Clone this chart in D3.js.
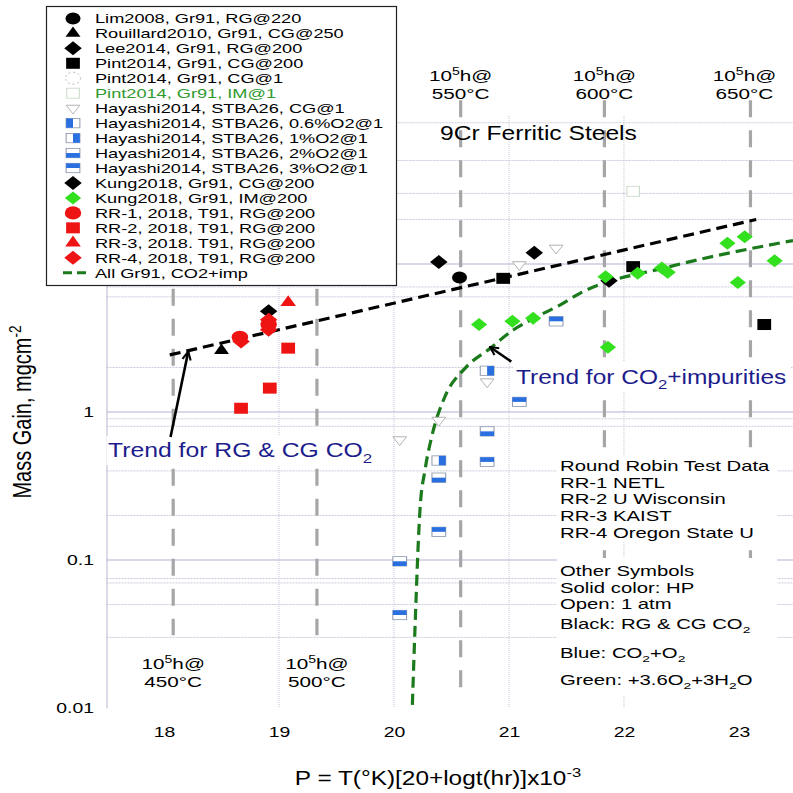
<!DOCTYPE html>
<html>
<head>
<meta charset="utf-8">
<script src="https://cdn.jsdelivr.net/npm/d3@7"></script>
<style>
  body { margin: 0; background: #fff; }
  svg { font-family: "Liberation Sans", Arial, Helvetica, sans-serif; }
</style>
</head>
<body>
<script>
// values: [P (Larson-Miller), mass gain mg/cm2]
var lim2008 = [[20.57, 8.1]];
var rouillard2010 = [[18.50, 2.6]];
var lee2014 = [[18.91, 4.8], [20.39, 10.3], [21.22, 11.9]];
var pintCG200 = [[20.95, 8.0], [22.08, 9.6], [23.22, 3.9]];
var pintCG1 = [];
var pintIM1 = [[22.08, 31]];
var hayashiCG1 = [[21.41, 12.8], [21.09, 9.9], [20.81, 1.6], [20.39, 0.88], [20.05, 0.65]];
var hayashi06 = [];
var hayashi1 = [[20.81, 1.9], [20.39, 0.47]];
var hayashi2 = [[20.81, 0.74], [20.39, 0.36], [20.05, 0.098]];
var hayashi3 = [[21.41, 4.1], [21.09, 1.17], [20.81, 0.46], [20.39, 0.155], [20.05, 0.0425]];
var kungCG = [[21.87, 7.7]];
var kungIM = [[20.74, 3.9], [21.03, 4.1], [21.21, 4.3], [21.84, 8.2], [21.86, 2.74], [22.12, 8.65],
              [22.33, 9.4], [22.38, 8.8], [22.90, 13.8], [23.05, 15.3], [22.99, 7.5], [23.31, 10.5]];
var rr1 = [[18.66, 3.2], [18.91, 3.9]];
var rr2 = [[19.08, 2.7], [18.92, 1.45], [18.67, 1.06]];
var rr3 = [[19.08, 5.5]];
var rr4 = [[18.67, 3.0], [18.91, 4.2], [18.91, 3.6]];

// trend lines
var trendRG = [[18.05, 2.43], [23.15, 20.0]];
var trendImp = [[20.16, 0.0105], [20.183, 0.035], [20.226, 0.218], [20.27, 0.406], [20.328, 0.68],
                [20.443, 1.27], [20.617, 1.97], [20.835, 2.69], [21.037, 3.58], [21.241, 4.40],
                [21.443, 5.28], [21.617, 6.34], [22.40, 9.6], [23.47, 14.4]];

// 1e5 h lines (P) and their temperatures
var lmpP = [18.08, 19.33, 20.58, 21.83, 23.1];
var lmpTemp = ["450°C", "500°C", "550°C", "600°C", "650°C"];

var xTicks = [18, 19, 20, 21, 22, 23];
var yTicks = [0.01, 0.1, 1, 10, 100];
var majorY = [0.1, 1, 10];
var minorY = [90, 50, 30, 20, 7, 6, 2, 0.9, 0.8, 0.4, 0.2, 0.075, 0.07, 0.05, 0.03];
var xGrid = [19, 20, 21, 22];

var legendLabels = ["Lim2008, Gr91, RG@220", "Rouillard2010, Gr91, CG@250", "Lee2014, Gr91, RG@200",
  "Pint2014, Gr91, CG@200", "Pint2014, Gr91, CG@1", "Pint2014, Gr91, IM@1", "Hayashi2014, STBA26, CG@1",
  "Hayashi2014, STBA26, 0.6%O2@1", "Hayashi2014, STBA26, 1%O2@1", "Hayashi2014, STBA26, 2%O2@1",
  "Hayashi2014, STBA26, 3%O2@1", "Kung2018, Gr91, CG@200", "Kung2018, Gr91, IM@200",
  "RR-1, 2018, T91, RG@200", "RR-2, 2018, T91, RG@200", "RR-3, 2018. T91, RG@200",
  "RR-4, 2018, T91, RG@200", "All Gr91, CO2+imp"];

var RED = "#ee1414", GREEN = "#33e01e", BLUE = "#2a6fe0", NAVY = "#1c1c8c", DKGREEN = "#1b7a1b";

var series = [
  {data: lim2008, kind: "circle", color: "#000", r: 6},
  {data: rouillard2010, kind: "triangle", color: "#000", r: 12},
  {data: lee2014, kind: "diamond", color: "#000", r: 7},
  {data: pintCG200, kind: "square", color: "#000", r: 11},
  {data: pintCG1, kind: "openCircle", color: "#bbb", r: 6},
  {data: pintIM1, kind: "openSquare", color: "#c4d8c4", r: 10},
  {data: hayashiCG1, kind: "triDown", color: "#aaa", r: 11},
  {data: hayashi06, kind: "hayL", color: BLUE, r: 11},
  {data: hayashi1, kind: "hayR", color: BLUE, r: 11},
  {data: hayashi2, kind: "hayB", color: BLUE, r: 11},
  {data: hayashi3, kind: "hayT", color: BLUE, r: 11},
  {data: kungCG, kind: "diamond", color: "#000", r: 7},
  {data: kungIM, kind: "diamond", color: GREEN, r: 6.5},
  {data: rr1, kind: "circle", color: RED, r: 6.6},
  {data: rr2, kind: "square", color: RED, r: 11},
  {data: rr3, kind: "triangle", color: RED, r: 12.5},
  {data: rr4, kind: "diamond", color: RED, r: 7}
];

var SX = 1.25; // the figure is stretched horizontally

var svg = d3.select("body").append("svg").attr("width", 793).attr("height", 793);

var x = d3.scaleLinear().domain([17.5, 23.47]).range([106.5, 793]);
var y = d3.scaleLog().domain([0.01, 100]).range([708, 116]);

// text with ^{sup} and _{sub}
function label(g, px, py, str, size, opts) {
  opts = opts || {};
  var sx = opts.sx || SX;
  var t = g.append("text")
    .attr("transform", "translate(" + px + "," + py + ") scale(" + sx + ",1)" + (opts.rotate ? " rotate(" + opts.rotate + ")" : ""))
    .attr("font-size", size)
    .attr("text-anchor", opts.anchor || "start")
    .attr("fill", opts.color || "#000");
  var parts = str.split(/(\^\{[^}]*\}|_\{[^}]*\})/);
  var prev = 0;
  parts.forEach(function(p) {
    if (!p) return;
    var dy = 0, fs = null, txt = p;
    if (p[0] == "^") { txt = p.slice(2, -1); dy = -0.4 * size; fs = size * 0.68; }
    else if (p[0] == "_") { txt = p.slice(2, -1); dy = 0.28 * size; fs = size * 0.68; }
    var ts = t.append("tspan").text(txt).attr("dy", dy - prev);
    if (fs) ts.attr("font-size", fs);
    prev = dy;
  });
  return t;
}

function drawMark(g, kind, color, r) {
  var m = g.append("g").attr("transform", "scale(" + SX + ",1)");
  var h;
  if (kind == "circle") m.append("circle").attr("r", r).attr("fill", color);
  else if (kind == "square") m.append("rect").attr("x", -r / 2).attr("y", -r / 2).attr("width", r).attr("height", r).attr("fill", color);
  else if (kind == "diamond") m.append("path").attr("d", "M0," + (-r) + "L" + r + ",0L0," + r + "L" + (-r) + ",0Z").attr("fill", color);
  else if (kind == "triangle") {
    h = r * 0.87;
    m.append("path").attr("d", "M0," + (-h * 2 / 3) + "L" + (r / 2) + "," + (h / 3) + "L" + (-r / 2) + "," + (h / 3) + "Z").attr("fill", color);
  }
  else if (kind == "triDown") {
    h = r * 0.8;
    m.append("path").attr("d", "M" + (-r / 2) + "," + (-h / 3) + "L" + (r / 2) + "," + (-h / 3) + "L0," + (h * 2 / 3) + "Z")
      .attr("fill", "#fff").attr("stroke", color).attr("stroke-width", 0.8);
  }
  else if (kind == "openCircle") m.append("circle").attr("r", r).attr("fill", "#fff").attr("stroke", color).attr("stroke-width", 0.8).attr("stroke-dasharray", "2,2");
  else if (kind == "openSquare") m.append("rect").attr("x", -r / 2).attr("y", -r / 2).attr("width", r).attr("height", r).attr("fill", "#fff").attr("stroke", color).attr("stroke-width", 0.8);
  else {
    var w = r, hh = r * 0.85;
    m.append("rect").attr("x", -w / 2).attr("y", -hh / 2).attr("width", w).attr("height", hh)
      .attr("fill", "#fff").attr("stroke", "#8a96ad").attr("stroke-width", 0.8);
    var half = {hayL: [-w / 2, -hh / 2, w / 2, hh], hayR: [0, -hh / 2, w / 2, hh],
                hayB: [-w / 2, 0, w, hh / 2], hayT: [-w / 2, -hh / 2, w, hh / 2]}[kind];
    m.append("rect").attr("x", half[0]).attr("y", half[1]).attr("width", half[2]).attr("height", half[3]).attr("fill", color);
  }
}

// grid
var grid = svg.append("g");
grid.selectAll(".minor").data(minorY).join("line")
  .attr("x1", x(17.5)).attr("x2", 793).attr("y1", function(d) { return y(d); }).attr("y2", function(d) { return y(d); })
  .attr("stroke", "#c9c9de").attr("stroke-width", 1).attr("stroke-dasharray", "2,1");
grid.selectAll(".major").data(majorY).join("line")
  .attr("x1", x(17.5)).attr("x2", 793).attr("y1", function(d) { return y(d); }).attr("y2", function(d) { return y(d); })
  .attr("stroke", "#b2b2d2").attr("stroke-width", 1.2);
grid.selectAll(".vx").data(xGrid).join("line")
  .attr("x1", function(d) { return x(d); }).attr("x2", function(d) { return x(d); })
  .attr("y1", y(100)).attr("y2", y(0.01))
  .attr("stroke", "#c4c4dc").attr("stroke-width", 1).attr("stroke-dasharray", "1,1");

// axes
var xAxis = svg.append("g").attr("transform", "translate(0," + y(0.01) + ")")
  .call(d3.axisBottom(x).tickValues(xTicks).tickSize(0).tickPadding(18).tickFormat(d3.format("d")));
xAxis.select(".domain").remove();
xAxis.attr("font-family", null);
xAxis.selectAll("text").attr("font-size", 15.5).attr("fill", "#000").attr("transform", "scale(" + SX + ",1)");

var yAxis = svg.append("g").attr("transform", "translate(" + x(17.5) + ",0)")
  .call(d3.axisLeft(y).tickValues(yTicks).tickSize(0).tickSizeOuter(0).tickPadding(10).tickFormat(d3.format("~g")));
yAxis.attr("font-family", null);
yAxis.select(".domain").attr("stroke", "#b8b8d0");
yAxis.selectAll("text").attr("font-size", 15.5).attr("fill", "#000").attr("transform", "scale(" + SX + ",1)");

// 1e5 h lines
var lmp = svg.append("g");
lmp.selectAll("line").data(lmpP).join("line")
  .attr("x1", function(d) { return x(d); }).attr("x2", function(d) { return x(d); })
  .attr("y1", function(d, i) { return i < 2 ? y(6.8) : y(128); })
  .attr("y2", function(d, i) { return i < 2 ? y(0.031) : y(0.0135); })
  .attr("stroke", "#a6a6a6").attr("stroke-width", 3.2).attr("stroke-dasharray", "17,13");
lmpP.forEach(function(p, i) {
  var top = i >= 2;
  var ly = top ? 81 : 669;
  var lx = x(p) + (i == 4 ? -6 : 0);
  label(svg, lx, ly, "10^{5}h@", 15, {anchor: "middle", sx: 1.38});
  label(svg, lx, ly + 18, lmpTemp[i], 15, {anchor: "middle", sx: 1.38});
});

// trend lines
var line = d3.line().x(function(d) { return x(d[0]); }).y(function(d) { return y(d[1]); });
svg.append("path").datum(trendRG).attr("d", line)
  .attr("fill", "none").attr("stroke", "#000").attr("stroke-width", 3.2).attr("stroke-dasharray", "11,6");
svg.append("path").datum(trendImp).attr("d", line.curve(d3.curveMonotoneX))
  .attr("fill", "none").attr("stroke", DKGREEN).attr("stroke-width", 3.2).attr("stroke-dasharray", "11,6");

// points
series.forEach(function(s) {
  svg.append("g").selectAll("g").data(s.data).join("g")
    .attr("transform", function(d) { return "translate(" + x(d[0]) + "," + y(d[1]) + ")"; })
    .each(function() { drawMark(d3.select(this), s.kind, s.color, s.r); });
});

// annotation boxes and texts
svg.append("rect").attr("x", 106.5).attr("y", 436).attr("width", 272).attr("height", 29).attr("fill", "#fff");
label(svg, 108, 457, "Trend for RG & CG CO_{2}", 19.8, {color: NAVY});
svg.append("rect").attr("x", 513).attr("y", 362).attr("width", 278).attr("height", 30).attr("fill", "#fff");
label(svg, 516, 384, "Trend for CO_{2}+impurities", 19.6, {color: NAVY});

svg.append("defs").append("marker").attr("id", "arr")
  .attr("viewBox", "0 0 10 10").attr("refX", 9).attr("refY", 5)
  .attr("markerWidth", 4).attr("markerHeight", 4).attr("orient", "auto")
  .append("path").attr("d", "M1,1L9,5L1,9").attr("fill", "none").attr("stroke", "#000").attr("stroke-width", 2);

var arrows = [[[18.057, 0.678], [18.211, 2.56]], [[21.02, 2.19], [20.835, 2.75]]];
svg.selectAll(".arrow").data(arrows).join("line")
  .attr("x1", function(d) { return x(d[0][0]); }).attr("y1", function(d) { return y(d[0][1]); })
  .attr("x2", function(d) { return x(d[1][0]); }).attr("y2", function(d) { return y(d[1][1]); })
  .attr("stroke", "#000").attr("stroke-width", 2.6).attr("marker-end", "url(#arr)");

label(svg, 440, 140, "9Cr Ferritic Steels", 19.7);

svg.append("rect").attr("x", 557).attr("y", 455).attr("width", 220).attr("height", 87).attr("fill", "#fff");
svg.append("rect").attr("x", 557).attr("y", 558).attr("width", 220).attr("height", 137).attr("fill", "#fff");
var notes = [["Round Robin Test Data", 471], ["RR-1 NETL", 487.5], ["RR-2 U Wisconsin", 504], ["RR-3 KAIST", 521],
  ["RR-4 Oregon State U", 537.5], ["Other Symbols", 576], ["Solid color: HP", 592.5], ["Open: 1 atm", 609],
  ["Black: RG & CG CO_{2}", 629], ["Blue: CO_{2}+O_{2}", 657.5], ["Green: +3.6O_{2}+3H_{2}O", 685]];
notes.forEach(function(n) { label(svg, 560, n[1], n[0], 14.3, {sx: 1.42}); });

// axis titles
label(svg, 438, 785, "P = T(°K)[20+logt(hr)]x10^{-3}", 19.5, {anchor: "middle"});
label(svg, 31, 412, "Mass Gain, mgcm^{-2}", 20, {anchor: "middle", rotate: -90});

// legend
var leg = svg.append("g");
leg.append("rect").attr("x", 46.5).attr("y", 6.5).attr("width", 350).attr("height", 279)
  .attr("fill", "#fff").attr("stroke", "#222").attr("stroke-width", 1.2);
legendLabels.forEach(function(t, i) {
  var ry = 18.4 + i * 14.96;
  var row = leg.append("g").attr("transform", "translate(73," + ry + ")");
  if (i < series.length) {
    drawMark(row, series[i].kind, series[i].color, series[i].r);
  } else {
    row.append("line").attr("x1", -10).attr("x2", 17).attr("stroke", DKGREEN)
      .attr("stroke-width", 3).attr("stroke-dasharray", "9,5");
  }
  label(leg, 95, ry + 5, t, 12.9, {sx: 1.41, color: i == 5 ? "#2e9a2e" : "#000"});
});
</script>
</body>
</html>
